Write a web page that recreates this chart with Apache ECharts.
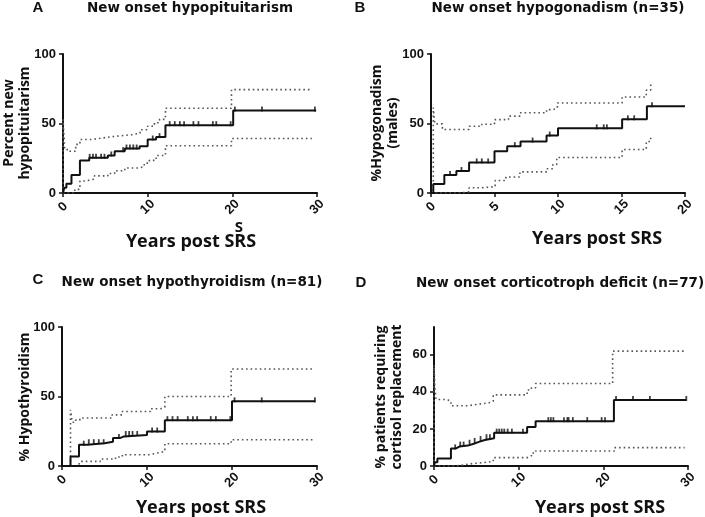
<!DOCTYPE html>
<html><head><meta charset="utf-8">
<script src="https://cdn.jsdelivr.net/npm/echarts@6/dist/echarts.min.js"></script>
<style>html,body{margin:0;padding:0;background:#fff}#c{width:705px;height:517px}</style>
</head><body><div id="c"></div>
<script>
// ---------- Panel A: New onset hypopituitarism ----------
var aMainT = [0, 0.15, 0.4, 1.0, 2.0, 3.1, 5.3, 6.1, 7.3, 9.05, 10.0, 11.0, 12.1, 20.1, 29.9];
var aMainV = [0, 3.8, 6.7, 13.0, 23.4, 25.3, 27.0, 30.1, 32.0, 33.7, 38.5, 40.2, 48.8, 59.3, 59.3];
var aUpT = [0, 0, 0.2, 0.5, 1.5, 2.0, 3.3, 4.7, 6.2, 8.2, 9.1, 10.0, 10.8, 11.4, 12.1, 19.9, 29.4];
var aUpV = [0, 53, 32.5, 30, 35, 38.5, 39.6, 40.8, 42, 43, 45.5, 48, 50.5, 53, 61, 74.4, 74.4];
var aLoT = [0, 1.4, 2.0, 2.6, 3.7, 5.3, 6.1, 7.3, 9.0, 9.6, 10.2, 11.0, 12.1, 19.9, 29.4];
var aLoV = [0, 2.6, 8.6, 10, 12.3, 14, 16, 18, 19, 21.5, 23.5, 27, 34, 39.2, 39.2];
var aCens = [3.15, 3.54, 3.9, 4.5, 4.9, 5.7, 7.1, 7.5, 7.9, 8.3, 8.7, 10.6, 11.4, 12.6, 13.2, 13.8, 14.3, 15.4, 16.0, 17.7, 18.1, 19.8, 20.3, 23.5, 29.75];
var aXTicks = [0, 10, 20, 30];
var aYTicks = [0, 50, 100];

// ---------- Panel B: New onset hypogonadism (n=35) ----------
var bMainT = [0, 0.18, 1.05, 2.0, 3.0, 5.0, 6.0, 7.05, 9.1, 10.0, 15.05, 17.0, 20.0];
var bMainV = [0, 6.5, 13.0, 15.8, 22.0, 30.1, 33.7, 37.0, 41.3, 46.5, 53.0, 62.4, 62.4];
var bUpT = [0, 0.18, 0.3, 0.9, 3.0, 4.0, 5.0, 6.1, 7.0, 9.1, 9.6, 9.95, 15.05, 16.95, 17.3];
var bUpV = [0, 61.5, 49.7, 45.7, 48, 49.5, 52.8, 55.3, 57.7, 60, 61, 64.8, 69.1, 74, 78];
var bLoT = [0, 2.3, 3.0, 4.0, 5.05, 5.9, 7.0, 9.15, 9.6, 9.9, 15.05, 16.95, 17.3];
var bLoV = [0, 0.8, 3.8, 4.5, 9, 11.5, 15.2, 17.5, 20.5, 25.5, 31.3, 37, 41];
var bCens = [1.5, 2.4, 3.6, 4.0, 4.5, 6.6, 8.0, 9.35, 13.05, 13.6, 13.85, 15.5, 16.0, 17.4];
var bXTicks = [0, 5, 10, 15, 20];
var bYTicks = [0, 50, 100];

// ---------- Panel C: New onset hypothyroidism (n=81) ----------
var cMainT = [0, 1.0, 2.0, 3.0, 5.0, 6.0, 6.8, 7.3, 10.0, 12.1, 20.0, 29.8];
var cMainV = [0, 6.9, 15.3, 16.4, 17.4, 20.1, 21.3, 22.3, 24.8, 33.0, 46.5, 46.5];
var cUpT = [1.0, 1.0, 1.2, 1.6, 2.1, 5.9, 7.1, 10.4, 11.6, 12.1, 19.9, 29.5];
var cUpV = [0, 40.4, 31.5, 33, 34.5, 36.8, 39.2, 41.2, 42.3, 50, 69.8, 69.8];
var cLoT = [2.0, 2.1, 4.5, 6.3, 7.1, 10.2, 11.2, 12.1, 19.9, 29.5];
var cLoV = [1, 3.3, 5, 6.5, 8.1, 9.3, 10.5, 16, 18.9, 18.9];
var cCens = [2.56, 3.15, 3.74, 4.33, 4.9, 6.7, 7.5, 7.9, 8.3, 8.85, 10.6, 11.2, 12.4, 13.0, 13.6, 14.8, 15.4, 15.9, 17.5, 18.1, 19.8, 20.3, 23.5, 29.75];
var cXTicks = [0, 10, 20, 30];
var cYTicks = [0, 50, 100];

// ---------- Panel D: New onset corticotroph deficit (n=77) ----------
var dMainT = [0, 0.1, 0.4, 2.0, 2.6, 3.0, 4.0, 4.7, 5.3, 6.0, 7.1, 11.0, 12.0, 21.25, 29.8];
var dMainV = [0, 2.0, 4.1, 9.5, 10.5, 11.0, 12.0, 13.0, 14.0, 15.0, 18.0, 21.0, 24.2, 35.6, 35.6];
var dUpT = [0, 0, 0.1, 0.25, 1.5, 2.0, 3.5, 4.0, 5.0, 6.5, 7.0, 11.0, 11.5, 12.0, 21.1, 29.6];
var dUpV = [0, 54.5, 42, 35.9, 35, 32.5, 32.5, 33.2, 34.1, 35, 38.4, 41, 42.2, 44.5, 62, 62];
var dLoT = [0, 2.5, 3.5, 4.0, 5.0, 7.0, 11.0, 11.5, 12.0, 21.3, 29.6];
var dLoV = [0, 0.5, 1.0, 1.5, 2.4, 4.5, 5.5, 7.0, 8.1, 9.9, 9.9];
var dCens = [2.5, 3.1, 3.5, 4.2, 4.8, 5.5, 6.2, 6.6, 7.4, 7.7, 8.0, 8.3, 8.7, 9.2, 10.5, 13.5, 13.8, 14.1, 15.35, 15.75, 15.9, 16.4, 18.1, 19.8, 20.2, 21.5, 23.5, 25.5, 29.8];
var dXTicks = [0, 10, 20, 30];
var dYTicks = [0, 20, 40, 60];

// ---------- Text ----------
var panelLetters = ['A', 'B', 'C', 'D'];
var panelTitles = ['New onset hypopituitarism', 'New onset hypogonadism (n=35)', 'New onset hypothyroidism (n=81)', 'New onset corticotroph deficit (n=77)'];
var yNames = ['Percent new\nhypopituitarism', '%Hypogonadism\n(males)', '% Hypothyroidism', '% patients requiring\ncortisol replacement'];
var xName = 'Years post SRS';
</script>
<script>
function pairs(T, V) { return T.map(function (t, i) { return [t, V[i]]; }); }
function stepAt(T, V, t) {
  var v = V[0];
  for (var i = 0; i < T.length; i++) { if (T[i] <= t) v = V[i]; }
  return v;
}
var panels = [
  {main: [aMainT, aMainV], up: [aUpT, aUpV], lo: [aLoT, aLoV], cens: aCens, xt: aXTicks, yt: aYTicks, xmax: 30, xint: 10, ymax: 100, yint: 50,
   grid: {left: 63, right: 388, top: 54, bottom: 324}},
  {main: [bMainT, bMainV], up: [bUpT, bUpV], lo: [bLoT, bLoV], cens: bCens, xt: bXTicks, yt: bYTicks, xmax: 20, xint: 5, ymax: 100, yint: 50,
   grid: {left: 431, right: 20, top: 54, bottom: 324}},
  {main: [cMainT, cMainV], up: [cUpT, cUpV], lo: [cLoT, cLoV], cens: cCens, xt: cXTicks, yt: cYTicks, xmax: 30, xint: 10, ymax: 100, yint: 50,
   grid: {left: 62, right: 388, top: 327, bottom: 51}},
  {main: [dMainT, dMainV], up: [dUpT, dUpV], lo: [dLoT, dLoV], cens: dCens, xt: dXTicks, yt: dYTicks, xmax: 30, xint: 10, ymax: 75, yint: 20,
   grid: {left: 434, right: 17, top: 327, bottom: 51}}
];
var grids = [], xAxes = [], yAxes = [], series = [];
var axisCol = '#111';
panels.forEach(function (p, i) {
  grids.push(p.grid);
  xAxes.push({
    type: 'value', gridIndex: i, min: 0, max: p.xmax, interval: p.xint,
    axisLine: {show: true, onZero: false, lineStyle: {color: axisCol, width: 2}},
    axisTick: {show: true, inside: false, length: 4, lineStyle: {color: axisCol, width: 1.5}, customValues: p.xt},
    axisLabel: {show: true, customValues: p.xt, rotate: 45, align: 'center', verticalAlign: 'middle', margin: 14,
      color: '#111', fontFamily: 'Liberation Sans', fontWeight: 'bold', fontSize: 13},
    splitLine: {show: false}
  });
  yAxes.push({
    type: 'value', gridIndex: i, min: 0, max: p.ymax, interval: p.yint,
    axisLine: {show: true, onZero: false, lineStyle: {color: axisCol, width: 2}},
    axisTick: {show: true, inside: false, length: 4, lineStyle: {color: axisCol, width: 1.5}, customValues: p.yt},
    axisLabel: {show: true, customValues: p.yt, margin: 7, color: '#111', fontFamily: 'Liberation Sans', fontWeight: 'bold', fontSize: 13},
    splitLine: {show: false}
  });
  var dotted = {color: '#555', width: 1.6, type: [1.6, 3]};
  series.push({type: 'line', xAxisIndex: i, yAxisIndex: i, step: 'end', showSymbol: false, silent: true,
    data: pairs(p.up[0], p.up[1]), lineStyle: dotted, z: 2});
  series.push({type: 'line', xAxisIndex: i, yAxisIndex: i, step: 'end', showSymbol: false, silent: true,
    data: pairs(p.lo[0], p.lo[1]), lineStyle: dotted, z: 2});
  series.push({type: 'line', xAxisIndex: i, yAxisIndex: i, step: 'end', showSymbol: false, silent: true,
    data: pairs(p.main[0], p.main[1]), lineStyle: {color: '#111', width: 2}, z: 3});
  series.push({type: 'scatter', xAxisIndex: i, yAxisIndex: i, silent: true, symbol: 'rect', symbolSize: [1.8, 5],
    symbolOffset: [0, -1.5],
    data: p.cens.map(function (t) { return [t, stepAt(p.main[0], p.main[1], t)]; }),
    itemStyle: {color: '#111'}, z: 4});
});

var letterPos = [[38, 8], [360, 8], [38, 280], [361, 283]];
var titlePos = [[190, 8], [558, 8], [192, 282], [560, 283]];
var yNamePos = [[17, 123], [385, 123], [25, 397], [389, 397]];
var xNamePos = [[191, 242], [597, 239], [201, 508], [600, 508]];
var graphics = [];
for (var k = 0; k < 4; k++) {
  graphics.push({type: 'text', x: letterPos[k][0], y: letterPos[k][1],
    style: {text: panelLetters[k], fill: '#111', font: 'bold 15px "Liberation Sans"', textAlign: 'center', textVerticalAlign: 'middle'}});
  graphics.push({type: 'text', x: titlePos[k][0], y: titlePos[k][1],
    style: {text: panelTitles[k], fill: '#111', font: 'bold 13.5px "DejaVu Sans"', textAlign: 'center', textVerticalAlign: 'middle'}});
  graphics.push({type: 'text', x: yNamePos[k][0], y: yNamePos[k][1], rotation: Math.PI / 2,
    style: {text: yNames[k], fill: '#111', font: 'bold 14px "Open Sans"', textAlign: 'center', textVerticalAlign: 'middle', lineHeight: 16}});
  graphics.push({type: 'text', x: xNamePos[k][0], y: xNamePos[k][1],
    style: {text: xName, fill: '#111', font: 'bold 18px "Open Sans"', textAlign: 'center', textVerticalAlign: 'middle'}});
}
graphics.push({type: 'text', x: 239, y: 228,
  style: {text: 'S', fill: '#111', font: 'bold 15px "Open Sans"', textAlign: 'center', textVerticalAlign: 'middle'}});

var chart = echarts.init(document.getElementById('c'), null, {renderer: 'canvas'});
chart.setOption({
  animation: false,
  backgroundColor: '#fff',
  grid: grids, xAxis: xAxes, yAxis: yAxes, series: series,
  graphic: graphics
});
</script>
</body></html>
